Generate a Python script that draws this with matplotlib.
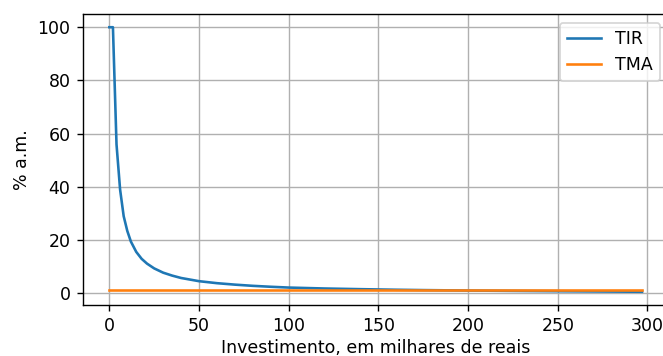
import matplotlib
matplotlib.use("Agg")
import matplotlib.pyplot as plt

# investimento (milhares de reais) e taxas (% a.m.)
investimento = [0, 2, 4, 6, 8, 10, 12, 15, 18, 21, 25, 30, 35, 40, 50, 60, 70, 80,
                90, 100, 120, 140, 160, 175, 200, 225, 250, 275, 297]
tir = [100, 100, 56, 39, 29, 23.5, 19.5, 15.6, 13, 11.2, 9.4, 7.8, 6.7, 5.8, 4.6,
       3.85, 3.3, 2.85, 2.5, 2.2, 1.85, 1.6, 1.38, 1.25, 1.08, 0.95, 0.83, 0.72, 0.62]
tma_valor = 1.25
tma = [tma_valor for _ in investimento]

# figura pequena com dpi maior para ficar com fontes maiores
fig = plt.figure(figsize=(663 / 125, 356 / 125), dpi=125)
ax = fig.add_axes([82.7 / 663, 51 / 356, 586 / 663, 291 / 356])
ax.plot(investimento, tir, label='TIR')
ax.plot(investimento, tma, label='TMA')
ax.set_xlabel('Investimento, em milhares de reais', labelpad=2.5)
ax.set_ylabel('% a.m.')
ax.grid(True)
ax.legend(loc='upper right')

fig.savefig("out.png", dpi=125)
